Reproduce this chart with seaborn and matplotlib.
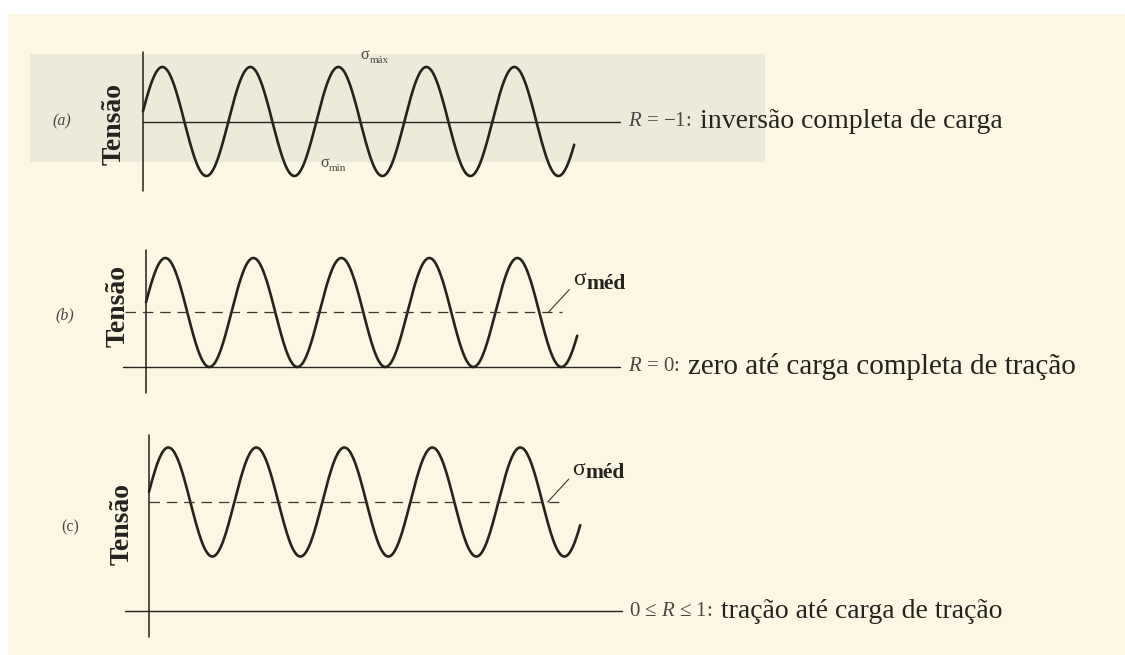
import numpy as np
import pandas as pd
import matplotlib
matplotlib.use("Agg")
import matplotlib.pyplot as plt
import seaborn as sns
from matplotlib.patches import Rectangle

# Cyclic stress histories: maximum and minimum stress of each case (relative units)
panel_tags = ["(a)", "(b)", "(c)"]
sigma_max = [1.0, 2.0, 3.0]
sigma_min = [-1.0, 0.0, 1.0]
ratio_labels = ["R = −1:", "R = 0:", "0 ≤ R ≤ 1:"]
load_labels = ["inversão completa de carga",
               "zero até carga completa de tração",
               "tração até carga de tração"]
axis_label = "Tensão"
n_cycles = 4.9          # number of cycles drawn
first_peak = 0.22       # time of the first maximum (cycles)

# ---------------------------------------------------------------- layout
W, H, DPI = 1125, 655, 100
PX_PER_CYCLE = 88.0
PX_PER_UNIT = 54.5
origins = [(143, 121.5), (146, 367), (149, 611)]      # pixel position of (t=0, stress=0)
yaxis_span = [(-1.28, 1.27), (-0.48, 2.15), (-0.48, 3.23)]
xaxis_span = [(0.0, 5.42), (-0.26, 5.39), (-0.27, 5.37)]
mean_span = [None, (-0.24, 4.73), (0.0, 4.69)]
tag_pos = [(-0.92, 0.0), (-0.92, 0.94), (-0.90, 1.54)]
ylabel_pos = [(-0.33, -0.05), (-0.32, 1.12), (-0.31, 1.60)]
tag_style = ["italic", "italic", "normal"]
caption_size = [20, 21, 20]

ink = "#26221e"
grey_ink = "#4b4843"
paper = "#fbf7e2"

sns.set_theme(style="white")
plt.rcParams["font.family"] = ["Liberation Serif", "DejaVu Serif"]
plt.rcParams["mathtext.fontset"] = "custom"
plt.rcParams["mathtext.it"] = "Liberation Serif:italic"
plt.rcParams["mathtext.rm"] = "Liberation Serif"
plt.rcParams["lines.scale_dashes"] = False

fig = plt.figure(figsize=(W / DPI, H / DPI), dpi=DPI)
fig.patch.set_facecolor(paper)

# paper tone: white scanner margin and the greyer band behind case (a)
bg = fig.add_axes([0, 0, 1, 1], zorder=-10)
bg.set_xlim(0, W)
bg.set_ylim(H, 0)
bg.axis("off")
bg.add_patch(Rectangle((0, 0), W, 14, facecolor="white", edgecolor="none"))
bg.add_patch(Rectangle((0, 0), 8, H, facecolor="white", edgecolor="none"))
bg.add_patch(Rectangle((30, 54), 735, 108, facecolor="#ecead9", edgecolor="none"))

t = np.linspace(0.0, n_cycles, 800)

for i in range(3):
    x0, y0 = origins[i]
    ax = fig.add_axes([0, 0, 1, 1])
    ax.set_facecolor("none")
    ax.set_xlim(-x0 / PX_PER_CYCLE, (W - x0) / PX_PER_CYCLE)
    ax.set_ylim((y0 - H) / PX_PER_UNIT, y0 / PX_PER_UNIT)
    ax.axis("off")

    s_max, s_min = sigma_max[i], sigma_min[i]
    s_mean = (s_max + s_min) / 2
    s_amp = (s_max - s_min) / 2
    wave = pd.DataFrame({"t": t,
                         "stress": s_mean + s_amp * np.cos(2 * np.pi * (t - first_peak))})
    sns.lineplot(data=wave, x="t", y="stress", ax=ax, color=ink, lw=1.9,
                 sort=False, estimator=None, legend=False)

    # stress axis and time axis (stress = 0)
    ax.plot([0, 0], yaxis_span[i], color=ink, lw=1.1)
    ax.plot(xaxis_span[i], [0, 0], color=ink, lw=1.0)

    # mean stress
    if mean_span[i] is not None:
        ax.plot(mean_span[i], [s_mean, s_mean], color="#3a3631", lw=0.9,
                linestyle=(0, (7.5, 5.0)))

    ax.text(*tag_pos[i], panel_tags[i], fontsize=11.5, style=tag_style[i],
            color=grey_ink, ha="center", va="center")
    ax.text(*ylabel_pos[i], axis_label, fontsize=20, fontweight="bold",
            rotation=90, color=ink, ha="center", va="center")

    r_txt = ax.text(xaxis_span[i][1] + 0.09, 0.0,
                    ratio_labels[i].replace("R", "$R$"),
                    fontsize=15, color=grey_ink, ha="left", va="center")
    ax.annotate(load_labels[i], xy=(1, 0.5), xycoords=r_txt,
                xytext=(6, 0), textcoords="offset points",
                fontsize=caption_size[i], color=ink, ha="left", va="center")

    if i == 0:
        # extreme stresses of the fully reversed cycle
        for sx, sy, sub in [(2.47, 1.22, "máx"), (2.01, -0.76, "mín")]:
            sg = ax.text(sx, sy, "σ", fontsize=11.5, color=grey_ink,
                         ha="left", va="center")
            ax.annotate(sub, xy=(1, 0.0), xycoords=sg, xytext=(0.5, -1.5),
                        textcoords="offset points", fontsize=8,
                        color=grey_ink, ha="left", va="bottom")
    else:
        # leader from the mean line to its label
        m_end = mean_span[i][1]
        ax.plot([m_end - 0.16, m_end + 0.08], [s_mean, s_mean + 0.42],
                color="#3a3631", lw=0.8)
        sg = ax.text(m_end + 0.12, s_mean + 0.6, "σ", fontsize=17,
                     color=ink, ha="left", va="center")
        ax.annotate("méd", xy=(1, 0.1), xycoords=sg, xytext=(0.5, -4),
                    textcoords="offset points", fontsize=15.5,
                    fontweight="bold", color=ink, ha="left", va="bottom")

fig.savefig("out.png", dpi=DPI, facecolor=fig.get_facecolor())
